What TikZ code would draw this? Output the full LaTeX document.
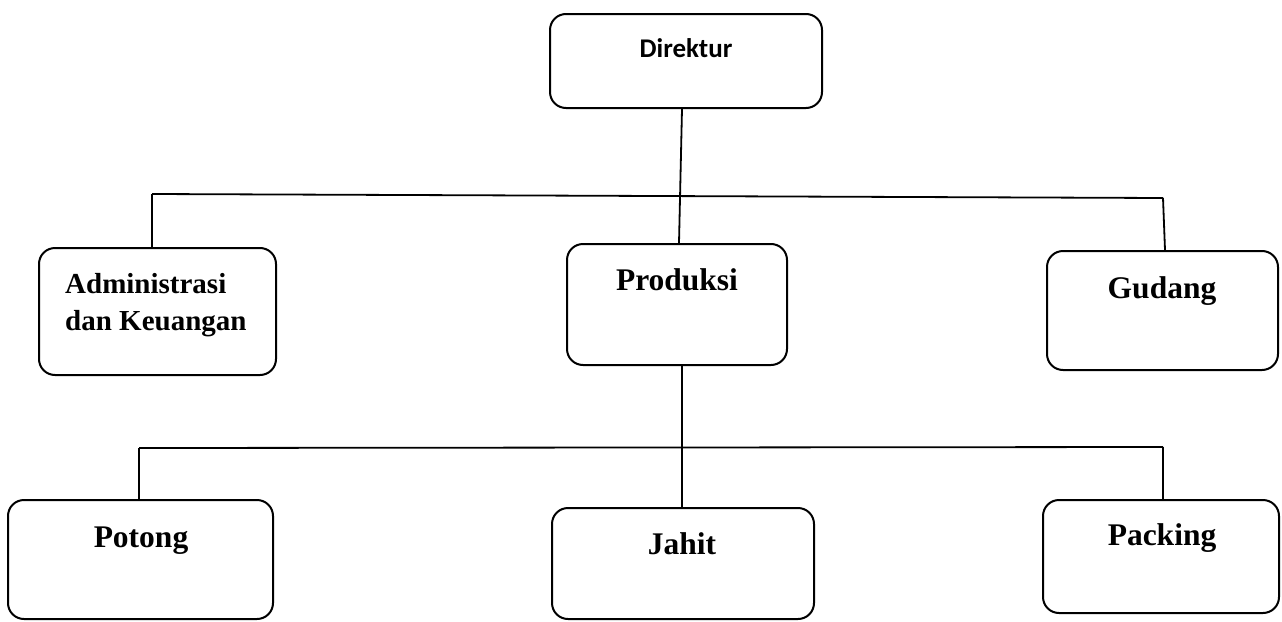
\documentclass[tikz,border=0pt]{standalone}
\usepackage{fontspec}
\setmainfont{Liberation Serif}
\newfontfamily\calib{Carlito}
\begin{document}
\begin{tikzpicture}[x=1pt,y=-1pt,
  box/.style={draw=black, line width=2pt, rounded corners=16pt, rectangle, inner sep=0pt, fill=white},
  conn/.style={draw=black, line width=1.8pt},
  lbl/.style={inner sep=0pt, anchor=base, font=\bfseries\fontsize{31.5}{37}\selectfont},
  lbls/.style={inner sep=0pt, anchor=base west, font=\bfseries\fontsize{29}{37}\selectfont}]
\useasboundingbox (0,0) rectangle (1282,621);
\fill[white] (0,0) rectangle (1282,621);
% boxes
\node[box, minimum width=272pt, minimum height=94pt] (dir) at (686,61) {};
\node[box, minimum width=237pt, minimum height=127pt] (adm) at (157.5,311.5) {};
\node[box, minimum width=220pt, minimum height=121pt] (pro) at (677,304.5) {};
\node[box, minimum width=231pt, minimum height=119pt] (gud) at (1162.5,310.5) {};
\node[box, minimum width=265pt, minimum height=119pt] (pot) at (140.5,559.5) {};
\node[box, minimum width=262pt, minimum height=111pt] (jah) at (683,563.5) {};
\node[box, minimum width=236pt, minimum height=113pt] (pac) at (1161,556.5) {};
% texts
\node[inner sep=0pt, anchor=base, font=\calib\bfseries\fontsize{27}{32}\selectfont] (tdir) at (686,57) {Direktur};
\node[lbls] (tadm1) at (65,293) {Administrasi};
\node[lbls] (tadm2) at (65,330) {dan Keuangan};
\node[lbl] (tpro) at (677,290) {Produksi};
\node[lbl] (tgud) at (1162,298) {Gudang};
\node[lbl] (tpot) at (141,547) {Potong};
\node[lbl] (tjah) at (682,554) {Jahit};
\node[lbl] (tpac) at (1162,545) {Packing};
% connectors
\coordinate (tl) at (152,194);
\coordinate (tr) at (1163,198);
\coordinate (bl) at (139,448);
\coordinate (br) at (1163,447);
\draw[conn] ([xshift=-4pt]dir.south) -- ([xshift=2pt]pro.north);
\draw[conn] (tl) -- (tr);
\draw[conn] (tl) -- (tl |- adm.north);
\draw[conn] (tr) -- ([xshift=2.5pt]gud.north);
\draw[conn] ([xshift=5pt]pro.south) -- ([xshift=-1pt]jah.north);
\draw[conn] (bl) -- (br);
\draw[conn] (bl) -- (bl |- pot.north);
\draw[conn] (br) -- (br |- pac.north);
\end{tikzpicture}
\end{document}
